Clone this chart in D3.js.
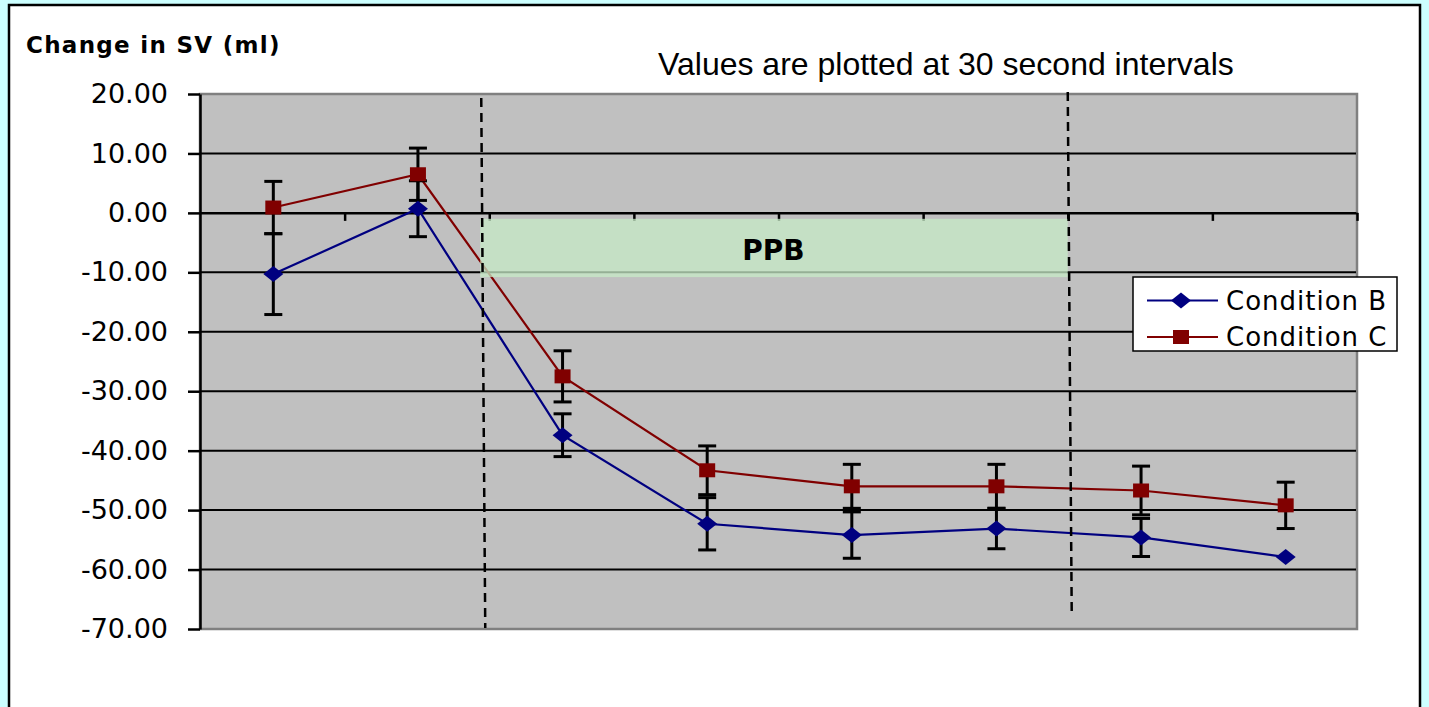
<!DOCTYPE html>
<html>
<head>
<meta charset="utf-8">
<script src="https://cdn.jsdelivr.net/npm/d3@7"></script>
<style>
    body { margin: 0; background: #ccffff; }
    svg { display: block; }
</style>
</head>
<body>
<div id="chart"></div>
<script>
// time points, one every 30 seconds
var timePoints = ["0", "30", "60", "90", "120", "150", "180", "210"];
var seriesNames = ["Condition B", "Condition C"];
var condB = [-10.3, 0.7, -37.4, -52.3, -54.2, -53.1, -54.6, -57.9];
var condC = [0.9, 6.5, -27.5, -43.3, -46.0, -46.0, -46.7, -49.2];
var errB = [6.8, 4.7, 3.6, 4.4, 3.9, 3.4, 3.2, 0];
var errC = [4.4, 4.4, 4.3, 4.1, 3.7, 3.7, 4.1, 3.9];
var yTicks = [20, 10, 0, -10, -20, -30, -40, -50, -60, -70];
// PPB period spans between these boundaries (index), and its box in data units
var ppbStart = 2, ppbEnd = 6;
var ppbTop = -1.0, ppbBottom = -10.8;

var svgWidth = 1429, svgHeight = 707;
var plot = { left: 200, right: 1357, top: 94, bottom: 629 };

var svg = d3.select("#chart").append("svg")
    .attr("width", svgWidth)
    .attr("height", svgHeight);

// white frame with black border
svg.append("rect")
    .attr("x", 9).attr("y", 5)
    .attr("width", 1411).attr("height", 730)
    .attr("fill", "#ffffff")
    .attr("stroke", "#000")
    .attr("stroke-width", 2.5);

var xBand = d3.scaleBand()
    .domain(timePoints)
    .range([plot.left, plot.right])
    .padding(0);
var xIdx = d3.scaleLinear()
    .domain([0, timePoints.length])
    .range([plot.left, plot.right]);
var y = d3.scaleLinear()
    .domain([-70, 20])
    .range([plot.bottom, plot.top]);

var cx = d => xBand(d) + xBand.bandwidth() / 2 + 1;

// plot background
svg.append("rect")
    .attr("x", plot.left).attr("y", plot.top)
    .attr("width", plot.right - plot.left)
    .attr("height", plot.bottom - plot.top)
    .attr("fill", "#c0c0c0")
    .attr("stroke", "#808080")
    .attr("stroke-width", 2.5);

// gridlines
svg.append("g").selectAll("line")
    .data(yTicks.filter(d => d > -70 && d < 20))
    .enter().append("line")
    .attr("x1", plot.left).attr("x2", plot.right - 1)
    .attr("y1", d => y(d)).attr("y2", d => y(d))
    .attr("stroke", "#000")
    .attr("stroke-width", 2);

// y axis
var yAxis = svg.append("g")
    .attr("transform", `translate(${plot.left}, 0)`)
    .call(d3.axisLeft(y)
        .tickValues(yTicks)
        .tickFormat(d => d.toFixed(2))
        .tickSize(12)
        .tickSizeOuter(0)
        .tickPadding(20));
yAxis.select(".domain").attr("stroke", "#000").attr("stroke-width", 2.5);
yAxis.selectAll(".tick line").attr("stroke", "#000").attr("stroke-width", 2.5);
yAxis.selectAll("text")
    .attr("fill", "#000")
    .style("font-family", "DejaVu Sans")
    .style("font-size", "27px");

// x axis at zero, ticks between categories, no labels
var xAxis = svg.append("g")
    .attr("transform", `translate(0, ${y(0)})`)
    .call(d3.axisBottom(xIdx)
        .tickValues(d3.range(1, timePoints.length + 1))
        .tickFormat("")
        .tickSize(8)
        .tickSizeOuter(0));
xAxis.select(".domain").attr("stroke", "#000").attr("stroke-width", 2);
xAxis.selectAll(".tick line").attr("stroke", "#000").attr("stroke-width", 2.5);

// series
var series = [
    { name: seriesNames[0], values: condB, err: errB, color: "#000080", shape: "diamond" },
    { name: seriesNames[1], values: condC, err: errC, color: "#800000", shape: "square" }
];

var line = d3.line()
    .x((d, i) => cx(timePoints[i]))
    .y(d => y(d));

function drawMarker(g, shape, color) {
    if (shape === "diamond") {
        g.append("path")
            .attr("d", "M0,-8L10,0L0,8L-10,0Z")
            .attr("fill", color);
    } else {
        g.append("rect")
            .attr("x", -8).attr("y", -7)
            .attr("width", 16).attr("height", 14)
            .attr("fill", color);
    }
}

series.forEach(function(s) {
    svg.append("path")
        .datum(s.values)
        .attr("fill", "none")
        .attr("stroke", s.color)
        .attr("stroke-width", 2.2)
        .attr("d", line);
});

series.forEach(function(s) {
    var eg = svg.append("g")
        .attr("stroke", "#000")
        .attr("stroke-width", 3);
    s.values.forEach(function(v, i) {
        var e = s.err[i];
        if (!e) return;
        var x = cx(timePoints[i]);
        eg.append("line").attr("x1", x).attr("x2", x)
            .attr("y1", y(v + e)).attr("y2", y(v - e));
        eg.append("line").attr("x1", x - 9).attr("x2", x + 9)
            .attr("y1", y(v + e)).attr("y2", y(v + e));
        eg.append("line").attr("x1", x - 9).attr("x2", x + 9)
            .attr("y1", y(v - e)).attr("y2", y(v - e));
    });
});

series.forEach(function(s) {
    s.values.forEach(function(v, i) {
        var g = svg.append("g")
            .attr("transform", `translate(${cx(timePoints[i])}, ${y(v)})`);
        drawMarker(g, s.shape, s.color);
    });
});

// PPB shaded box (semi transparent, over the lines)
svg.append("rect")
    .attr("x", xIdx(ppbStart) - 9)
    .attr("y", y(ppbTop))
    .attr("width", xIdx(ppbEnd) - xIdx(ppbStart) + 9)
    .attr("height", y(ppbBottom) - y(ppbTop))
    .attr("fill", "rgb(199,235,199)")
    .attr("opacity", 0.75);

svg.append("text")
    .attr("x", (xIdx(ppbStart) + xIdx(ppbEnd)) / 2 - 5)
    .attr("y", 260)
    .attr("text-anchor", "middle")
    .style("font-family", "DejaVu Sans")
    .style("font-weight", "bold")
    .style("font-size", "28px")
    .text("PPB");

// dashed period lines
var dashed = [
    { x1: xIdx(ppbStart) - 8, y1: 98, x2: xIdx(ppbStart) - 4, y2: 628 },
    { x1: xIdx(ppbEnd), y1: 92, x2: xIdx(ppbEnd) + 4, y2: 617 }
];
svg.append("g").selectAll("line")
    .data(dashed)
    .enter().append("line")
    .attr("x1", d => d.x1).attr("y1", d => d.y1)
    .attr("x2", d => d.x2).attr("y2", d => d.y2)
    .attr("stroke", "#000")
    .attr("stroke-width", 2.5)
    .attr("stroke-dasharray", "9,6");

// titles
svg.append("text")
    .attr("x", 26).attr("y", 53)
    .style("font-family", "DejaVu Sans")
    .style("font-weight", "bold")
    .style("font-size", "23px")
    .style("letter-spacing", "1.3px")
    .text("Change in SV (ml)");

svg.append("text")
    .attr("x", 658).attr("y", 75)
    .style("font-family", "Liberation Sans")
    .style("font-size", "32px")
    .text("Values are plotted at 30 second intervals");

// legend
var legend = svg.append("g").attr("transform", "translate(1133, 277)");
legend.append("rect")
    .attr("width", 264).attr("height", 74)
    .attr("fill", "#fff")
    .attr("stroke", "#000")
    .attr("stroke-width", 1.5);
series.forEach(function(s, i) {
    var row = legend.append("g").attr("transform", `translate(0, ${23.5 + i * 36.5})`);
    row.append("line")
        .attr("x1", 14).attr("x2", 85)
        .attr("stroke", s.color).attr("stroke-width", 2);
    drawMarker(row.append("g").attr("transform", "translate(48, 0)"), s.shape, s.color);
    row.append("text")
        .attr("x", 93).attr("y", 0).attr("dy", "0.36em")
        .style("font-family", "DejaVu Sans")
        .style("font-size", "26px")
        .style("letter-spacing", "1px")
        .text(s.name);
});
</script>
</body>
</html>
